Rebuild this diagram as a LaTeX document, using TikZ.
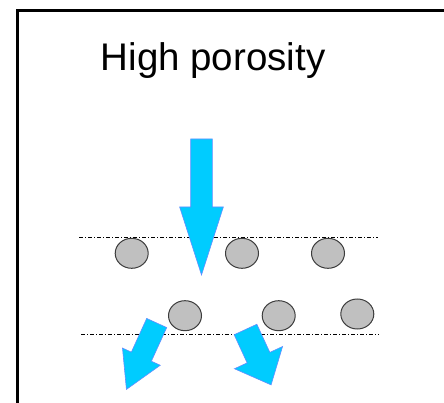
\documentclass[tikz,border=0pt]{standalone}
\usepackage{fontspec}
\setmainfont{Liberation Sans}
\usetikzlibrary{shapes.geometric}
\definecolor{flowfill}{RGB}{0,204,255}
\definecolor{flowline}{RGB}{100,140,255}
\definecolor{graingray}{RGB}{192,192,192}
\definecolor{grainline}{RGB}{60,60,60}
\tikzset{
  grain/.style={ellipse, draw=grainline, fill=graingray, line width=1pt,
    minimum width=33pt, minimum height=30pt, inner sep=0pt},
  layerline/.style={line width=1pt, dash pattern=on 4pt off 2pt on 1pt off 2pt},
  flow/.style={fill=flowfill, draw=flowline, line width=0.6pt, line join=miter},
  frameline/.style={line width=2.6pt}
}
% block arrow: start point, angle, shaft length, shaft width, head length, head width
\newcommand{\blockarrow}[6]{%
  \begin{scope}[shift={#1}, rotate=#2]
    \path[flow] (0,#4/2) -- (#3,#4/2) -- (#3,#6/2) -- (#3+#5,0)
      -- (#3,-#6/2) -- (#3,-#4/2) -- (0,-#4/2) -- cycle;
  \end{scope}}
\begin{document}
\begin{tikzpicture}[x=1pt, y=-1pt]
  \useasboundingbox (0,0) rectangle (444,403);
  % frame
  \draw[frameline] (17.5,403) -- (17.5,10.5) -- (444,10.5);
  % title
  \node[anchor=base west, inner sep=0pt, font=\fontsize{38.5}{44}\selectfont] (title) at (100.5,71) {High porosity};
  % layer boundaries
  \coordinate (t1) at (79,237.3);
  \coordinate (t2) at (378,237.3);
  \coordinate (b1) at (81,334);
  \coordinate (b2) at (379,334);
  \draw[layerline] (t1) -- (t2);
  \draw[layerline] (b1) -- (b2);
  % grains
  \node[grain] (g1) at (131.7,253.3) {};
  \node[grain] (g2) at (242,253.3) {};
  \node[grain] (g3) at (328,253.3) {};
  \node[grain] (g4) at (185,315.7) {};
  \node[grain] (g5) at (278.7,315.7) {};
  \node[grain] (g6) at (357.3,314) {};
  % flow arrows
  \blockarrow{(201.5,139)}{-90}{68}{21.6}{68}{43.7}
  \blockarrow{(156.7,323)}{-114.5}{37}{22}{36}{41.5}
  \blockarrow{(245.5,329.5)}{-65.2}{31}{25}{30}{53}
\end{tikzpicture}
\end{document}
